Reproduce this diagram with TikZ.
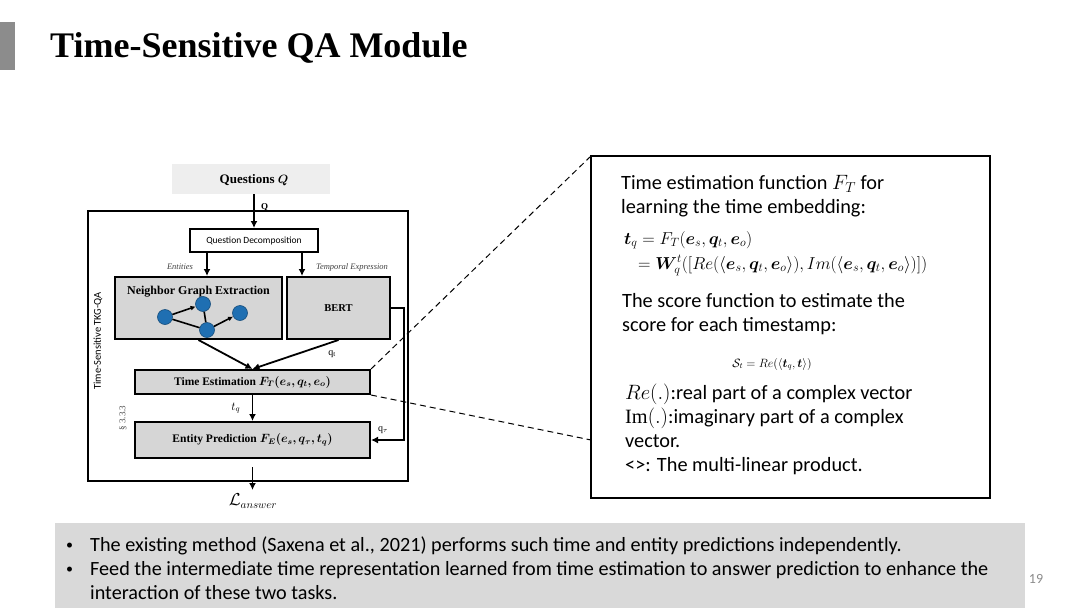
\documentclass[tikz,border=0pt]{standalone}
\usepackage{amsmath,bm}
\usepackage{fontspec}
\setmainfont{Liberation Serif}
\newfontfamily\carl{Carlito}
\usetikzlibrary{arrows.meta,calc}
\definecolor{boxgray}{HTML}{D6D6D6}
\definecolor{panelgray}{HTML}{D9D9D9}
\definecolor{qgray}{HTML}{EEEEEE}
\definecolor{nodeblue}{HTML}{1F6FB2}
\tikzset{
  box/.style={draw, line width=2pt, fill=boxgray, inner sep=0pt},
  wbox/.style={draw, line width=2pt, fill=white, inner sep=0pt},
  arr/.style={-{Latex[length=7pt,width=7pt]}, line width=1.8pt},
  garr/.style={-{Latex[length=5pt,width=5pt]}, line width=1.6pt},
  gnode/.style={circle, fill=nodeblue, draw=nodeblue!70!black, line width=0.6pt, minimum size=15pt, inner sep=0pt},
  dashline/.style={dash pattern=on 6pt off 4pt, line width=1pt},
  rtext/.style={anchor=base west, inner sep=0pt, font=\carl\fontsize{20.3}{24}\selectfont},
  btext/.style={anchor=base west, inner sep=0pt, font=\carl\fontsize{20.2}{24}\selectfont},
}
\begin{document}
\begin{tikzpicture}[x=1pt,y=-1pt]
\useasboundingbox (0,0) rectangle (1080,608);
\fill[white] (0,0) rectangle (1080,608);
% title
\fill[black!45] (0,22) rectangle (15,70);
\node[anchor=base west, inner sep=0pt, font=\bfseries\fontsize{36}{40}\selectfont] (title) at (50,57) {Time-Sensitive QA Module};

% ---------- left diagram ----------
\fill[qgray] (172,164) rectangle (330,194);
\node[font=\bfseries\fontsize{13}{15}\selectfont, inner sep=0pt] (qq) at (254,180) {Questions $\bm{Q}$};
\draw[line width=2.2pt] (88,211) rectangle (408,481);
\node[wbox, minimum width=128pt, minimum height=23pt, font=\carl\fontsize{9.5}{11}\selectfont] (qd) at (254,240.5) {Question Decomposition};
\coordinate (qtop) at (254,194);
\draw[arr] (qtop) -- (qd.north) node[pos=0.4, right=3pt, font=\bfseries\fontsize{9}{10}\selectfont] {Q};

\node[box, minimum width=167pt, minimum height=62pt] (ng) at (198.5,308) {};
\node[font=\bfseries\fontsize{12}{14}\selectfont, inner sep=0pt] (ngt) at (198.5,292) {Neighbor Graph Extraction};
\node[box, minimum width=103pt, minimum height=62pt, font=\bfseries\fontsize{10.5}{12}\selectfont] (bert) at (338.5,308) {BERT};

\draw[arr] (qd.south -| 207,0) -- (ng.north -| 207,0);
\draw[arr] (qd.south -| 302,0) -- (bert.north -| 302,0);
\node[font=\itshape\fontsize{8.5}{10}\selectfont, text=black!75] (ent) at (180,267) {Entities};
\node[font=\itshape\fontsize{8.5}{10}\selectfont, text=black!75] (tex) at (352,267) {Temporal Expression};

% graph
\node[gnode] (g1) at (165,317) {};
\node[gnode] (g2) at (203,304) {};
\node[gnode] (g3) at (207,330) {};
\node[gnode] (g4) at (240,313) {};
\draw[garr] (g1) -- (g2);
\draw[line width=1.6pt] (g1) -- (g3);
\draw[line width=1.6pt] (g2) -- (g3);
\draw[garr] (g3) -- (g4);

\node[box, minimum width=235pt, minimum height=24pt, font=\bfseries\fontsize{11.5}{13}\selectfont] (te) at (252.5,382) {Time Estimation $\bm{F_T(e_s, q_t, e_o)}$};
\node[box, minimum width=235pt, minimum height=36pt, font=\bfseries\fontsize{11.5}{13}\selectfont] (ep) at (252.5,440) {Entity Prediction $\bm{F_E(e_s, q_\tau, t_q)}$};

\draw[arr] (ng.south) -- (te.north);
\draw[arr] (bert.south) -- (te.north);
\node[font=\fontsize{10}{12}\selectfont] (qtl) at (332,354) {$\mathrm{q_t}$};
\draw[arr] (te.south) -- (ep.north) node[midway, left=8pt, font=\fontsize{12}{14}\selectfont] {$t_q$};
\draw[arr] (bert.east) -- ++(13,0) |- (ep.east);
\node[font=\fontsize{10}{12}\selectfont] (qtau) at (383,430) {$\mathrm{q}_\tau$};
\coordinate (ansa) at (252.5,467);
\coordinate (ansb) at (252.5,490);
\draw[arr] (ansa) -- (ansb);
\node[font=\fontsize{16}{18}\selectfont] (ans) at (253,501) {$\mathcal{L}_{answer}$};

\node[rotate=90, font=\carl\fontsize{10.5}{12}\selectfont] (vt) at (98,341) {Time-Sensitive TKG-QA};
\node[rotate=90, font=\fontsize{9}{11}\selectfont, text=black!70] (sec) at (123,418) {\S\ 3.3.3};

% ---------- right box ----------
\draw[line width=2.2pt] (591,156) rectangle (990,498);
\coordinate (rbtl) at (591,156);
\coordinate (rbl) at (591,440);
\draw[dashline] (te.north east) -- (rbtl);
\draw[dashline] (te.south east) -- (rbl);

\node[rtext] (r1) at (621,189) {Time estimation function $F_T$ for};
\node[rtext] (r2) at (621,213) {learning the time embedding:};
\node[anchor=base west, inner sep=0pt, font=\fontsize{16.5}{19}\selectfont] (e1) at (624,244) {$\bm{t}_q = F_T(\bm{e}_s, \bm{q}_t, \bm{e}_o)$};
\node[anchor=base west, inner sep=0pt, font=\fontsize{16.5}{19}\selectfont] (e2) at (638,269) {$= \bm{W}_q^t([Re(\langle \bm{e}_s, \bm{q}_t, \bm{e}_o\rangle), Im(\langle \bm{e}_s, \bm{q}_t, \bm{e}_o\rangle)])$};
\node[rtext] (r3) at (622,307) {The score function to estimate the};
\node[rtext] (r4) at (622,331) {score for each timestamp:};
\node[anchor=base, inner sep=0pt, font=\fontsize{12}{14}\selectfont] (e3) at (772,367) {$\mathcal{S}_t = Re(\langle \bm{t}_q, \bm{t}\rangle)$};
\node[rtext] (r5) at (625,399) {$Re(.)$:real part of a complex vector};
\node[rtext] (r6) at (625,423) {$\mathrm{Im}(.)$:imaginary part of a complex};
\node[rtext] (r7) at (625,447) {vector.};
\node[rtext] (r8) at (625,471) {<>: The multi-linear product.};

% ---------- bottom panel ----------
\fill[panelgray] (55,523) rectangle (1025,608);
\node[btext, font=\carl\fontsize{14}{16}\selectfont] (b1) at (66,549) {•};
\node[btext] (l1) at (90,551) {The existing method (Saxena et al., 2021) performs such time and entity predictions independently.};
\node[btext, font=\carl\fontsize{14}{16}\selectfont] (b2) at (66,573) {•};
\node[btext] (l2) at (90,575) {Feed the intermediate time representation learned from time estimation to answer prediction to enhance the};
\node[btext] (l3) at (90,599) {interaction of these two tasks.};
\node[anchor=base, inner sep=0pt, font=\carl\fontsize{14}{16}\selectfont, text=black!45] (pn) at (1036,583) {19};
\end{tikzpicture}
\end{document}
